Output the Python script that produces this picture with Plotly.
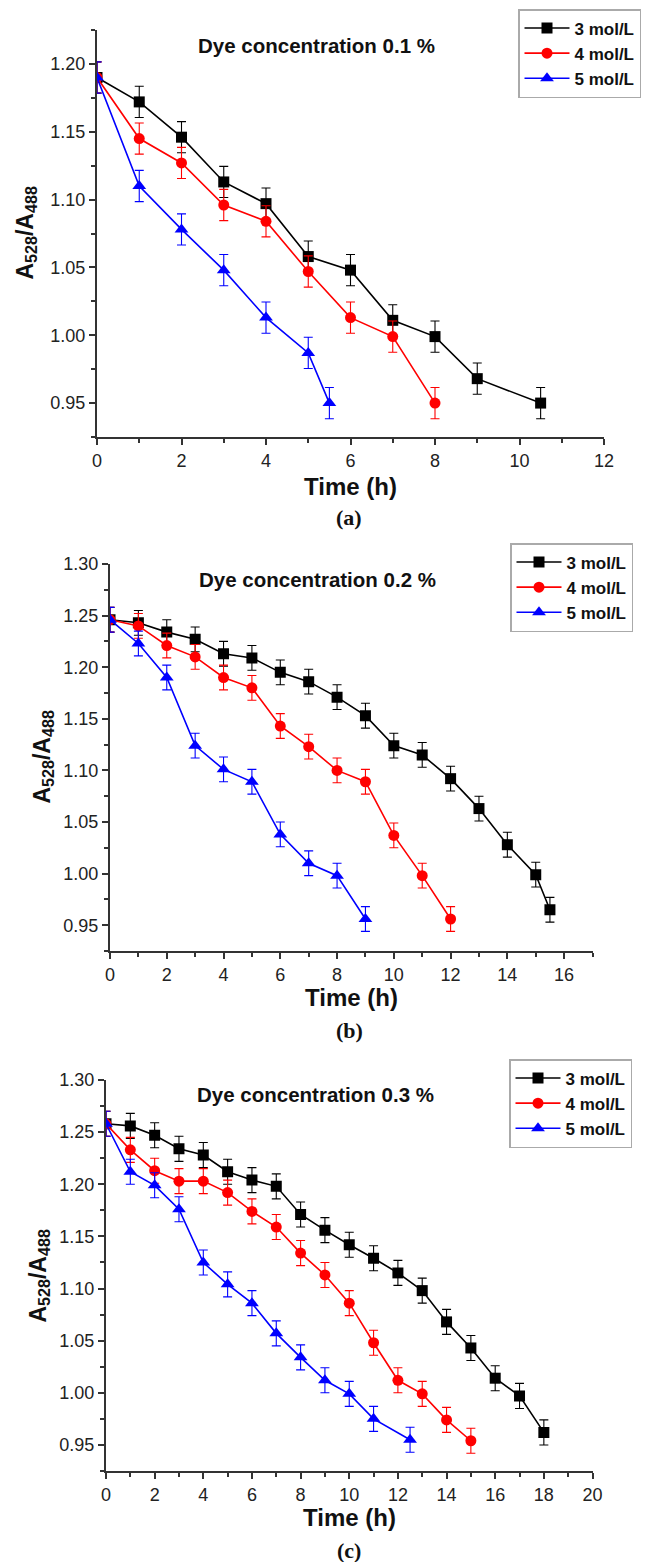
import plotly.graph_objects as go

# Panel (a): dye concentration 0.1 %
time_a_3 = [0, 1, 2, 3, 4, 5, 6, 7, 8, 9, 10.5]
ratio_a_3 = [1.190, 1.172, 1.146, 1.113, 1.097, 1.058, 1.048, 1.011, 0.999, 0.968, 0.950]
time_a_4 = [0, 1, 2, 3, 4, 5, 6, 7, 8]
ratio_a_4 = [1.190, 1.145, 1.127, 1.096, 1.084, 1.047, 1.013, 0.999, 0.950]
time_a_5 = [0, 1, 2, 3, 4, 5, 5.5]
ratio_a_5 = [1.190, 1.110, 1.078, 1.048, 1.013, 0.987, 0.950]
err_a = 0.0115

# Panel (b): dye concentration 0.2 %
time_b_3 = [0, 1, 2, 3, 4, 5, 6, 7, 8, 9, 10, 11, 12, 13, 14, 15, 15.5]
ratio_b_3 = [1.246, 1.243, 1.234, 1.227, 1.213, 1.209, 1.195, 1.186, 1.171, 1.153,
             1.124, 1.115, 1.092, 1.063, 1.028, 0.999, 0.965]
time_b_4 = [0, 1, 2, 3, 4, 5, 6, 7, 8, 9, 10, 11, 12]
ratio_b_4 = [1.246, 1.240, 1.221, 1.210, 1.190, 1.180, 1.143, 1.123, 1.100, 1.089,
             1.037, 0.998, 0.956]
time_b_5 = [0, 1, 2, 3, 4, 5, 6, 7, 8, 9]
ratio_b_5 = [1.246, 1.223, 1.190, 1.124, 1.101, 1.089, 1.038, 1.010, 0.998, 0.956]
err_b = 0.012

# Panel (c): dye concentration 0.3 %
time_c_3 = [0, 1, 2, 3, 4, 5, 6, 7, 8, 9, 10, 11, 12, 13, 14, 15, 16, 17, 18]
ratio_c_3 = [1.258, 1.256, 1.247, 1.234, 1.228, 1.212, 1.204, 1.198, 1.171, 1.156,
             1.142, 1.129, 1.115, 1.098, 1.068, 1.043, 1.014, 0.997, 0.962]
time_c_4 = [0, 1, 2, 3, 4, 5, 6, 7, 8, 9, 10, 11, 12, 13, 14, 15]
ratio_c_4 = [1.258, 1.233, 1.213, 1.203, 1.203, 1.192, 1.174, 1.159, 1.134, 1.113,
             1.086, 1.048, 1.012, 0.999, 0.974, 0.954]
time_c_5 = [0, 1, 2, 3, 4, 5, 6, 7, 8, 9, 10, 11, 12.5]
ratio_c_5 = [1.258, 1.212, 1.199, 1.176, 1.125, 1.104, 1.086, 1.057, 1.034, 1.012,
             0.999, 0.975, 0.955]
err_c = 0.012

series_names = ["3 mol/L", "4 mol/L", "5 mol/L"]
series_colors = ["black", "#ff0000", "#0000ff"]
series_symbols = ["square", "circle", "triangle-up"]
panel_titles = ["Dye concentration 0.1 %", "Dye concentration 0.2 %", "Dye concentration 0.3 %"]
panel_labels = ["(a)", "(b)", "(c)"]

# the page body keeps its default 8px margin, so the figure is drawn 8px smaller
# and every position below (measured on the full 651x1562 page) is shifted by OFF
OFF = 8
W, H = 651 - OFF, 1562 - OFF
FONT = "Arial, Liberation Sans, sans-serif"
AXCOL = "#333333"

panels = [
    dict(data=[(time_a_3, ratio_a_3), (time_a_4, ratio_a_4), (time_a_5, ratio_a_5)], err=err_a,
         xpx=(97, 604), ypx=(30, 437), xrange=[0, 12], yrange=[0.925, 1.225],
         legend_px=(518, 9), title_px=(316, 45), ytitle_x=26, xtitle_y=487, label_y=517),
    dict(data=[(time_b_3, ratio_b_3), (time_b_4, ratio_b_4), (time_b_5, ratio_b_5)], err=err_b,
         xpx=(110, 592.5), ypx=(564, 951), xrange=[0, 17], yrange=[0.925, 1.30],
         legend_px=(510, 543), title_px=(317, 579), ytitle_x=43, xtitle_y=997, label_y=1030),
    dict(data=[(time_c_3, ratio_c_3), (time_c_4, ratio_c_4), (time_c_5, ratio_c_5)], err=err_c,
         xpx=(106, 592.5), ypx=(1080, 1471), xrange=[0, 20], yrange=[0.925, 1.30],
         legend_px=(509, 1059), title_px=(315, 1094), ytitle_x=39, xtitle_y=1517, label_y=1550),
]


def px_x(v):
    return (v - OFF) / W


def px_y(v):
    return 1 - (v - OFF) / H


def ann(text, xpx, ypx, size, family=FONT, angle=0):
    return dict(text=text, x=px_x(xpx), y=px_y(ypx), xref="paper", yref="paper",
                xanchor="center", yanchor="middle", showarrow=False, textangle=angle,
                font=dict(family=family, size=size, color="#111"))


fig = go.Figure()
layout = {}
annotations = []

for i, p in enumerate(panels):
    n = "" if i == 0 else str(i + 1)
    leg = "legend" + n
    for (t, r), name, col, sym in zip(p["data"], series_names, series_colors, series_symbols):
        fig.add_trace(go.Scatter(
            x=t, y=r, name=name, mode="lines+markers",
            xaxis="x" + n, yaxis="y" + n, legend=leg,
            line=dict(color=col, width=1.6),
            marker=dict(color=col, symbol=sym, size=11 if sym != "triangle-up" else 12),
            error_y=dict(type="constant", value=p["err"], color=col, thickness=1.1, width=4.5),
        ))

    x0, x1 = p["xpx"]
    y0, y1 = p["ypx"]
    layout["xaxis" + n] = dict(
        domain=[px_x(x0), px_x(x1)], anchor="y" + n, range=p["xrange"], automargin=False,
        showline=True, linecolor=AXCOL, linewidth=2, mirror=False,
        ticks="outside", ticklen=6, tickwidth=1.5, tickcolor=AXCOL,
        dtick=2, tick0=0, showgrid=False, zeroline=False,
        minor=dict(ticks="outside", ticklen=4, tickwidth=1.5, tickcolor=AXCOL, dtick=1, showgrid=False),
        tickfont=dict(family=FONT, size=18, color="#222"),
    )
    layout["yaxis" + n] = dict(
        domain=[px_y(y1), px_y(y0)], anchor="x" + n, range=p["yrange"], automargin=False,
        showline=True, linecolor=AXCOL, linewidth=2, mirror=False,
        ticks="outside", ticklen=6, tickwidth=1.5, tickcolor=AXCOL,
        dtick=0.05, tick0=0.95, tickformat=".2f", showgrid=False, zeroline=False,
        minor=dict(ticks="outside", ticklen=4, tickwidth=1.5, tickcolor=AXCOL, dtick=0.025, showgrid=False),
        tickfont=dict(family=FONT, size=18, color="#222"),
    )
    lx, ly = p["legend_px"]
    layout[leg] = dict(
        x=px_x(lx), y=px_y(ly), xanchor="left", yanchor="top",
        bgcolor="white", bordercolor="#aaaaaa", borderwidth=1.5,
        font=dict(family=FONT, size=17, color="#111", weight="bold"),
        itemwidth=45, tracegroupgap=0,
    )
    tx, ty = p["title_px"]
    annotations.append(ann("<b>" + panel_titles[i] + "</b>", tx, ty, 20.5))
    annotations.append(ann("<b>Time (h)</b>", (x0 + x1) / 2, p["xtitle_y"], 24))
    annotations.append(ann("<b>A<sub>528</sub>/A<sub>488</sub></b>", p["ytitle_x"], (y0 + y1) / 2, 23, angle=-90))
    annotations.append(ann("<b>" + panel_labels[i] + "</b>", 349, p["label_y"], 22,
                           family="Liberation Serif, Times New Roman, serif"))

fig.update_layout(
    width=W, height=H,
    margin=dict(l=0, r=0, t=0, b=0, autoexpand=False),
    paper_bgcolor="white", plot_bgcolor="white",
    annotations=annotations,
    **layout,
)

fig.write_html("out.html")
